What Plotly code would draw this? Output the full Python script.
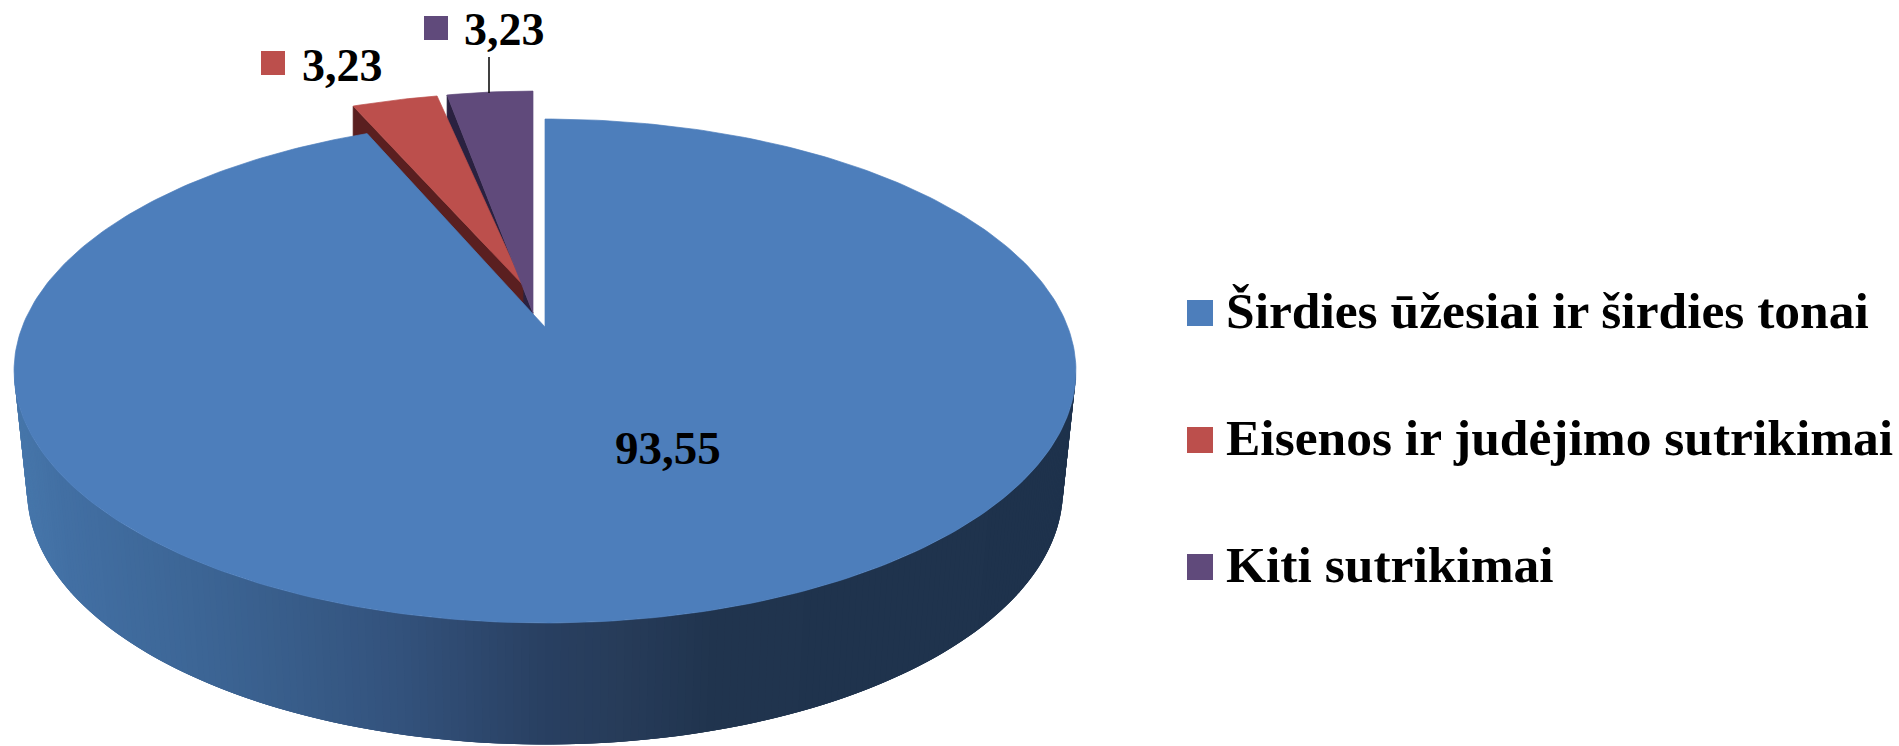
import math
import plotly.graph_objects as go

# ---- data ----
categories = ["Širdies ūžesiai ir širdies tonai", "Eisenos ir judėjimo sutrikimai", "Kiti sutrikimai"]
values = [93.55, 3.23, 3.23]

# ---- styles ----
top_colors = ["#4d7ebb", "#bc4f4c", "#604a7b"]
side_colors = [None, "#5a1f20", "#2a2140"]
grad_x = [14, 57, 210, 383, 536, 600, 700, 1076]
grad_c = [(70, 118, 170), (66, 111, 163), (59, 99, 146), (51, 82, 124), (40, 63, 96), (39, 60, 90), (32, 52, 78), (30, 50, 76)]
FONT = "Liberation Serif"
W, H = 1899, 746

# perspective projection of a unit disc onto the page
CX, PY, PA, PC, PW = 545.0, 327.0, 187.2, 0.1746, 522.8


def project(u, v):
    d = 1 + PC * v
    return CX + PW * u / d, (PY - PA * v) / d


def rim(theta):
    # theta in degrees, clockwise from 12 o'clock
    t = math.radians(theta)
    return project(math.sin(t), math.cos(t))


def arc(a0, a1, n):
    return [rim(a0 + (a1 - a0) * i / n) for i in range(n + 1)]


def grad(x):
    for i in range(len(grad_x) - 1):
        if x <= grad_x[i + 1]:
            f = max(0, (x - grad_x[i]) / (grad_x[i + 1] - grad_x[i]))
            c = [round(grad_c[i][k] + (grad_c[i + 1][k] - grad_c[i][k]) * f) for k in range(3)]
            return "rgb(%d,%d,%d)" % tuple(c)
    return "rgb(%d,%d,%d)" % grad_c[-1]


def poly(points, color, lw=0.7):
    xs = [p[0] for p in points] + [points[0][0]]
    ys = [p[1] for p in points] + [points[0][1]]
    return go.Scatter(x=xs, y=ys, mode="lines", fill="toself", fillcolor=color,
                      line=dict(color=color, width=lw), hoverinfo="skip", showlegend=False)


total = sum(values)
blue_sweep = 360 * values[0] / total
red_sweep = 360 * values[1] / total
purple_sweep = 360 * values[2] / total

apex = (CX, PY)

traces = []


def exploded(p, dx, dy, sx=1.0, sy=1.0):
    return (apex[0] + dx + (p[0] - apex[0]) * sx, apex[1] + dy + (p[1] - apex[1]) * sy)


# exploded slices: purple sits next to 12 o'clock, red follows it
p_edge = arc(360 - purple_sweep, 360, 12)
r_edge = arc(360 - purple_sweep - red_sweep, 360 - purple_sweep, 12)
P_EX = (-12, -14, .955, 1.067)
R_EX = (-22, -42, .955, .925)
purple_top = [exploded(apex, *P_EX)] + [exploded(p, *P_EX) for p in p_edge]
red_top = [exploded(apex, *R_EX)] + [exploded(p, *R_EX) for p in r_edge]
DROP = 45


def wall(a, b, drop):
    return [a, b, (b[0], b[1] + drop), (a[0], a[1] + drop)]


traces.append(poly(wall(purple_top[0], purple_top[1], DROP), side_colors[2]))
traces.append(poly(wall(red_top[0], red_top[1], DROP), side_colors[1]))
traces.append(poly(red_top, top_colors[1]))
traces.append(poly(purple_top, top_colors[2]))

# blue outer wall, in thin strips that carry the shading; each strip
# overlaps the next one so no seam shows
BX, BY, BSX, BSY = 545.0, 490.0, 518.0 / 531.0, 1.01
EX, EY = 545.0, 371.0


def lower(p):
    return (BX + BSX * (p[0] - EX), BY + BSY * (p[1] - EY))


ext = math.degrees(math.asin(PC))
N = 220
a0, a1 = 90 + ext, 270 - ext
step = (a1 - a0) / N
for i in range(N):
    t_right = a0 + step * i            # right-hand edge of the strip
    t_left = a0 + step * (i + 1)
    t_over = max(a0, t_right - step * 2)  # reach under the strip painted later
    pts = arc(t_over, t_left, 4)
    q = pts + [lower(p) for p in reversed(pts)]
    x_mid = (rim(t_right)[0] + rim(t_left)[0]) / 2
    traces.append(poly(q, grad(x_mid), lw=0))

# blue top
blue_pts = [apex] + arc(0, blue_sweep, 360)
traces.append(poly(blue_pts, top_colors[0]))

annotations = []
shapes = []


def text(x, baseline, s, size, anchor="left"):
    annotations.append(dict(x=x, y=baseline, xref="x", yref="y", text="<b>%s</b>" % s, showarrow=False,
                            xanchor=anchor, yanchor="bottom", yshift=-0.24 * size,
                            font=dict(family=FONT, size=size, color="#000000")))


def rect(x0, y0, x1, y1, color):
    shapes.append(dict(type="rect", xref="x", yref="y", x0=x0, y0=y0, x1=x1, y1=y1,
                       fillcolor=color, line=dict(width=0), layer="above"))


fmt = [f"{v:.2f}".replace(".", ",") for v in values]
text(668, 465, fmt[0], 47, "center")
text(300, 82, fmt[1], 46)
text(462, 46, fmt[2], 46)
rect(261, 51, 285, 75, top_colors[1])
rect(424, 16, 448, 40, top_colors[2])
shapes.append(dict(type="line", xref="x", yref="y", x0=489, x1=489, y0=57, y1=93,
                   line=dict(color="#000000", width=1.5), layer="above"))

for name, color, y0, baseline in zip(categories, top_colors, [300, 427, 554], [329, 456, 583]):
    rect(1187, y0, 1213, y0 + 26, color)
    text(1224, baseline, name, 51.5)

fig = go.Figure(traces)
fig.update_layout(
    width=W, height=H, margin=dict(l=0, r=0, t=0, b=0), autosize=False,
    paper_bgcolor="#ffffff", plot_bgcolor="#ffffff", showlegend=False,
    xaxis=dict(range=[0, W], visible=False, fixedrange=True),
    yaxis=dict(range=[H, 0], visible=False, fixedrange=True),
    annotations=annotations, shapes=shapes,
)
fig.write_html("out.html", config={"displayModeBar": False},
               post_script="document.body.style.margin='0';document.body.style.overflow='hidden';")
